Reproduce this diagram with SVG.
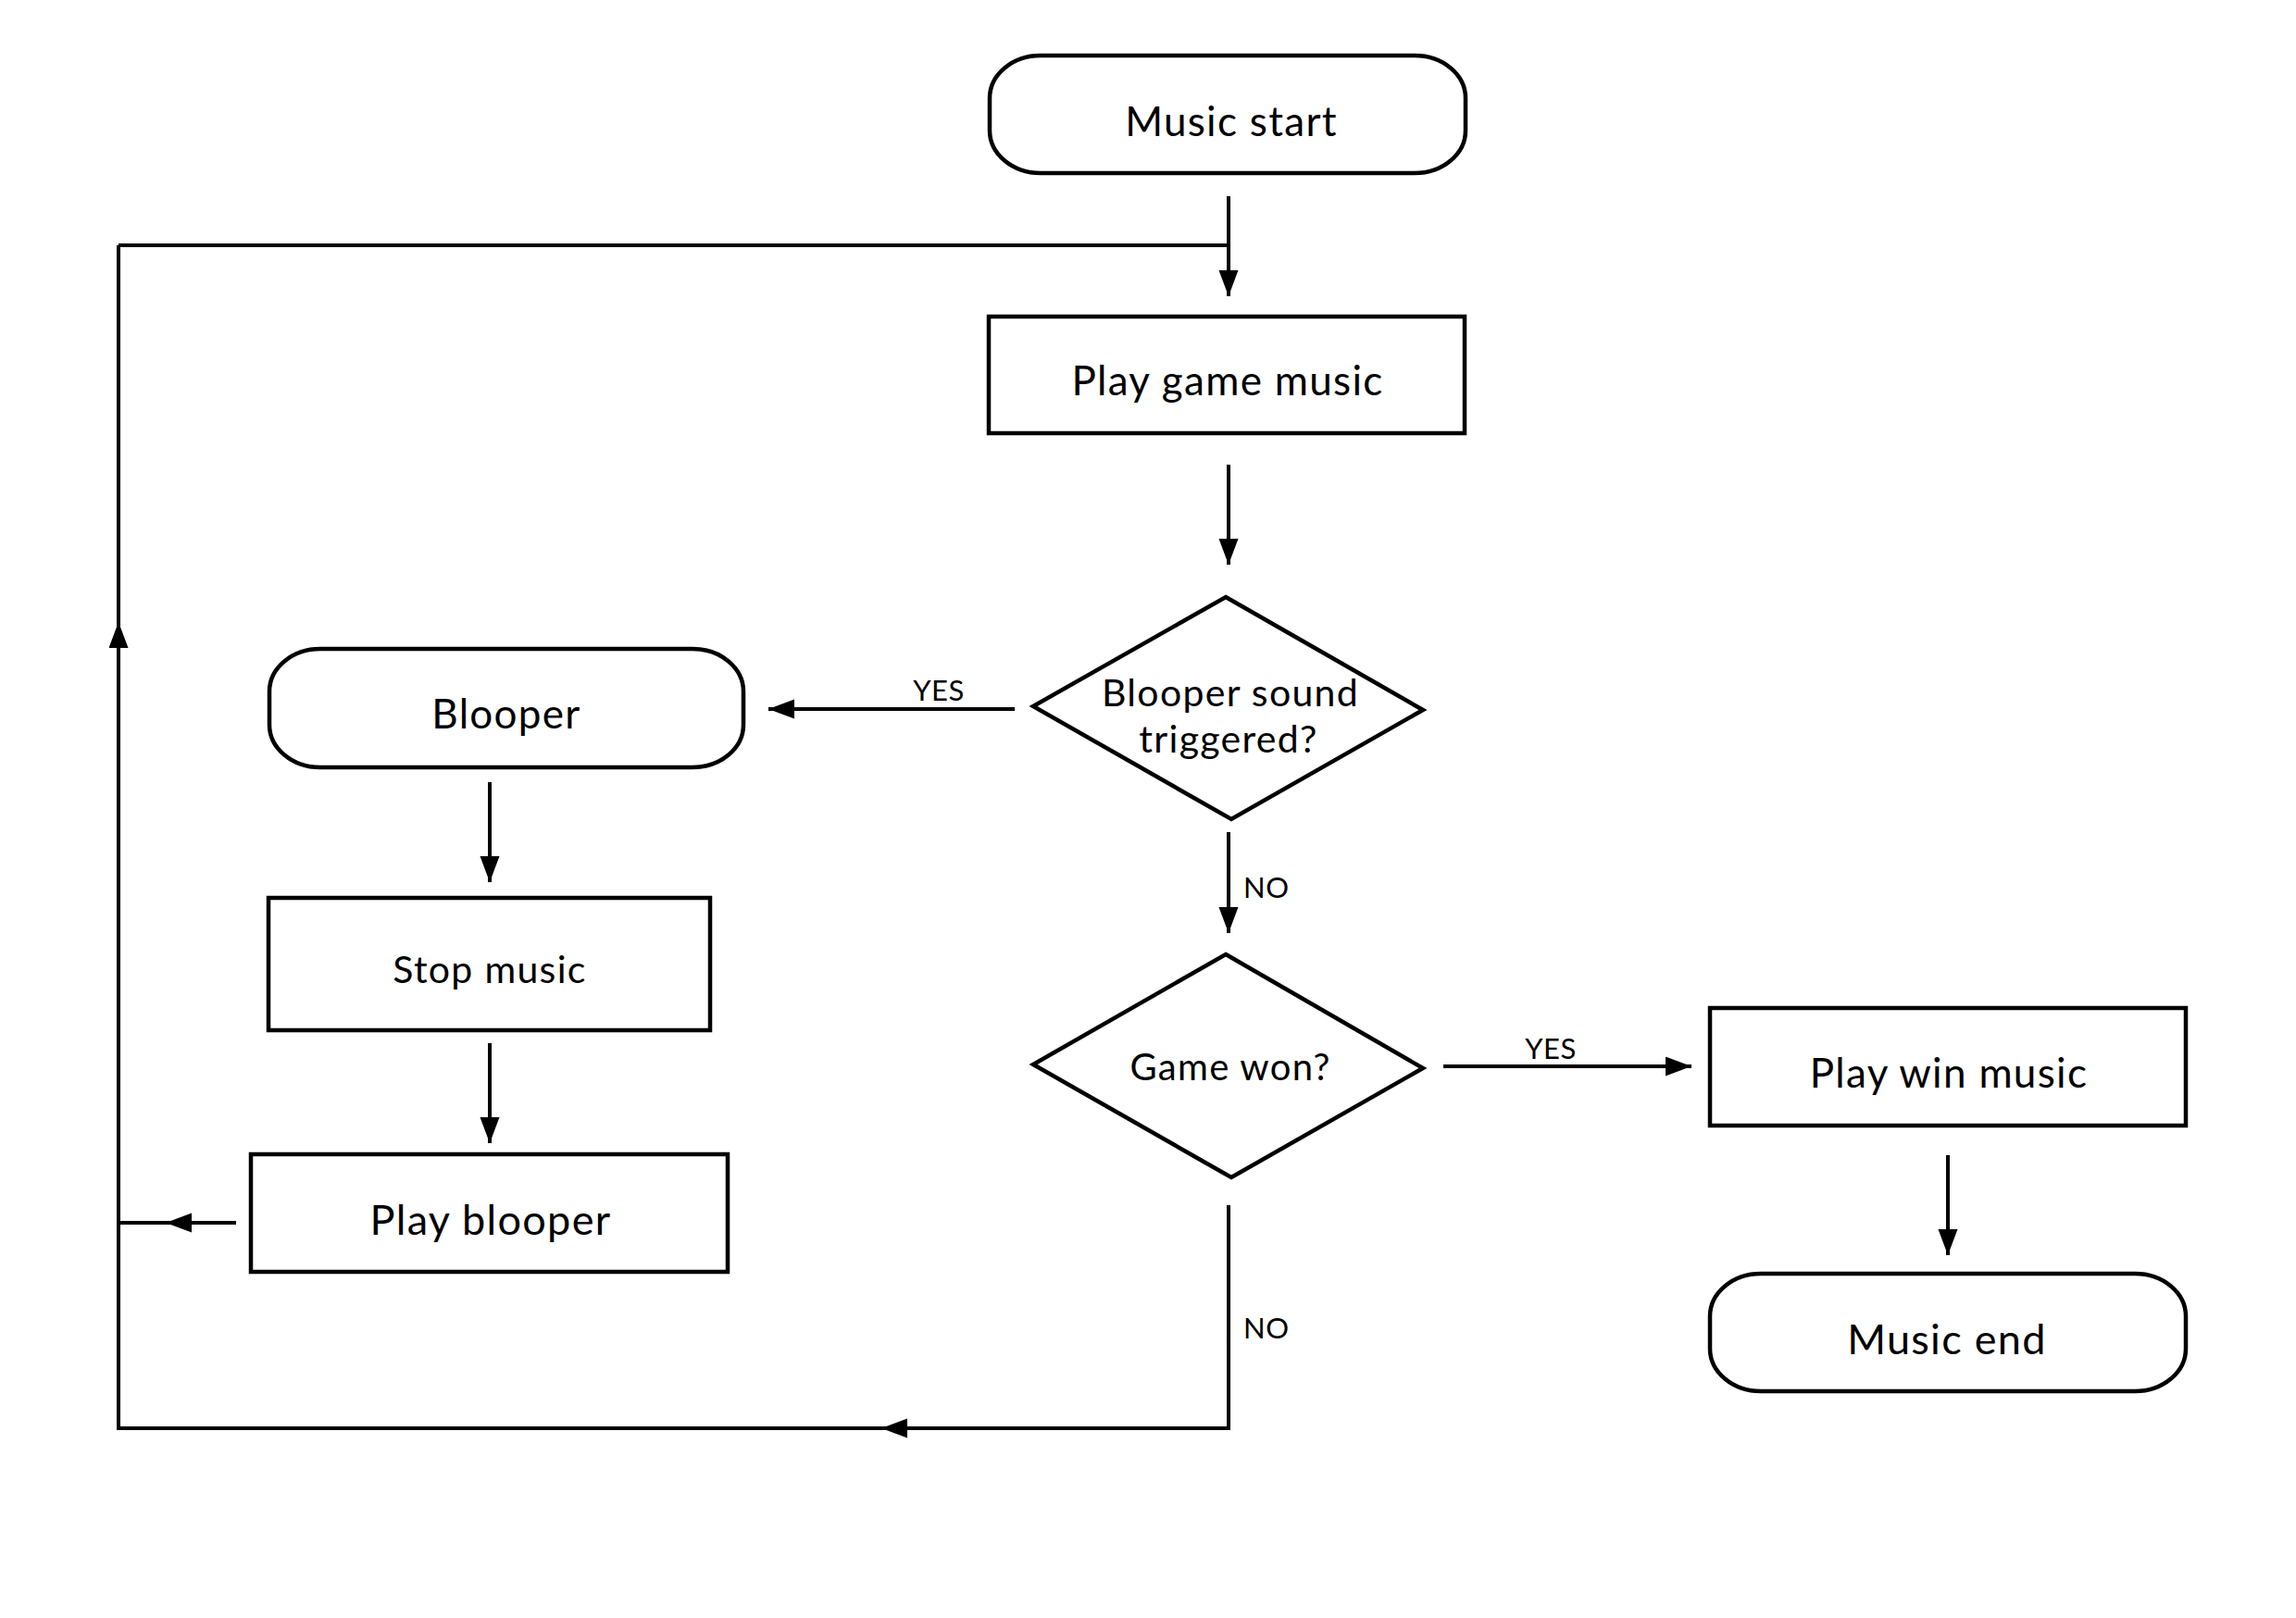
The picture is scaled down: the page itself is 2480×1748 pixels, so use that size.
<svg xmlns="http://www.w3.org/2000/svg" width="2480" height="1748" viewBox="0 0 2480 1748">
<style>
.shape{fill:#ffffff;stroke:#000000;stroke-width:4.5}
.conn{fill:none;stroke:#000000;stroke-width:4}
.lbl{font-family:Lato,"Liberation Sans",sans-serif;font-size:44px;letter-spacing:1.3px;fill:#000000;text-anchor:middle}
.small{font-family:Lato,"Liberation Sans",sans-serif;font-size:31px;letter-spacing:0.5px;fill:#000000}
</style>
<defs>
<marker id="arr" markerUnits="userSpaceOnUse" markerWidth="30" markerHeight="22" refX="28" refY="10.5" orient="auto">
<path d="M0,0 L28,10.5 L0,21 Z" fill="#000000"/>
</marker>
</defs>
<rect width="2480" height="1748" fill="#ffffff"/>
<g id="connectors">
<path class="conn" d="M1327,212 V320" marker-end="url(#arr)"/>
<path class="conn" d="M128,265 H1327"/>
<path class="conn" d="M1327,502 V610" marker-end="url(#arr)"/>
<path class="conn" d="M1096,766 H830" marker-end="url(#arr)"/>
<path class="conn" d="M1327,899 V1008" marker-end="url(#arr)"/>
<path class="conn" d="M529,845 V953" marker-end="url(#arr)"/>
<path class="conn" d="M529,1127 V1235" marker-end="url(#arr)"/>
<path class="conn" d="M255,1321 H179" marker-end="url(#arr)"/>
<path class="conn" d="M179,1321 H128"/>
<path class="conn" d="M1559,1152 H1827" marker-end="url(#arr)"/>
<path class="conn" d="M2104,1248 V1356" marker-end="url(#arr)"/>
<path class="conn" d="M1327,1302 V1543 H952" marker-end="url(#arr)"/>
<path class="conn" d="M952,1543 H128 V672" marker-end="url(#arr)"/>
<path class="conn" d="M128,672 V265"/>
<text class="small" x="1014" y="757" text-anchor="middle">YES</text>
<text class="small" x="1343" y="970">NO</text>
<text class="small" x="1675" y="1144" text-anchor="middle">YES</text>
<text class="small" x="1343" y="1446">NO</text>
</g>
<g id="music-start">
<rect class="shape" x="1069" y="60" width="514" height="127" rx="55" ry="46"/>
<text class="lbl" x="1330" y="147">Music start</text>
</g>
<g id="play-game-music">
<rect class="shape" x="1068" y="342" width="514" height="126"/>
<text class="lbl" x="1326" y="427">Play game music</text>
</g>
<g id="blooper-triggered">
<polygon class="shape" points="1324,645 1537,767 1330,885 1116,763"/>
<text class="lbl" x="1329" y="763" style="font-size:41px">Blooper sound</text>
<text class="lbl" x="1327" y="813" style="font-size:41px">triggered?</text>
</g>
<g id="game-won">
<polygon class="shape" points="1324,1031 1537,1154 1330,1272 1116,1150"/>
<text class="lbl" x="1329" y="1167" style="font-size:40px">Game won?</text>
</g>
<g id="blooper">
<rect class="shape" x="291" y="701" width="512" height="128" rx="55" ry="46"/>
<text class="lbl" x="547" y="787">Blooper</text>
</g>
<g id="stop-music">
<rect class="shape" x="290" y="970" width="477" height="143"/>
<text class="lbl" x="529" y="1062" style="font-size:41px">Stop music</text>
</g>
<g id="play-blooper">
<rect class="shape" x="271" y="1247" width="515" height="127"/>
<text class="lbl" x="530" y="1334" style="font-size:45px">Play blooper</text>
</g>
<g id="play-win-music">
<rect class="shape" x="1847" y="1089" width="514" height="127"/>
<text class="lbl" x="2105" y="1175">Play win music</text>
</g>
<g id="music-end">
<rect class="shape" x="1847" y="1376" width="514" height="127" rx="55" ry="46"/>
<text class="lbl" x="2103" y="1463" style="font-size:45px">Music end</text>
</g>
</svg>
